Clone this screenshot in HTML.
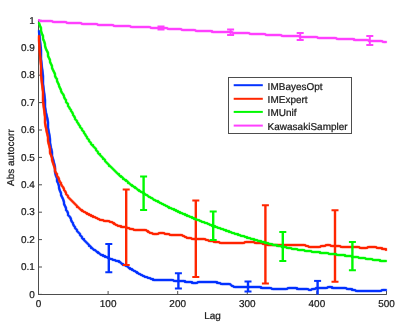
<!DOCTYPE html>
<html><head><meta charset="utf-8"><style>
html,body{margin:0;padding:0;background:#fff;}
svg{display:block;will-change:transform;}
text{font-family:"Liberation Sans",sans-serif;font-size:100px;fill:#1a1a1a;stroke:#1a1a1a;stroke-width:2.5px;text-rendering:geometricPrecision;}
</style></head><body>
<svg width="407" height="332" viewBox="0 0 407 332">
<rect width="407" height="332" fill="#fff"/>
<path d="M38.5,20.4 L38.5,294.5 M38,294.5 L386.5,294.5 L386.5,291" stroke="#4d4d4d" stroke-width="1" fill="none"/>
<path d="M38.5,294.40 L42,294.40 M38.5,267.00 L42,267.00 M38.5,239.60 L42,239.60 M38.5,212.20 L42,212.20 M38.5,184.80 L42,184.80 M38.5,157.40 L42,157.40 M38.5,130.00 L42,130.00 M38.5,102.60 L42,102.60 M38.5,75.20 L42,75.20 M38.5,47.80 L42,47.80 M38.5,20.40 L42,20.40 M38.50,294.5 L38.50,291 M108.10,294.5 L108.10,291 M177.70,294.5 L177.70,291 M247.30,294.5 L247.30,291 M316.90,294.5 L316.90,291 M386.50,294.5 L386.50,291 " stroke="#4d4d4d" stroke-width="1" fill="none"/>
<g fill="none" stroke-width="2.0" stroke-linejoin="round">
<defs><path id="cb" d="M39,31 L40,41 L41,50 L41,59 L42,68 L43,76 L43,84 L44,92 L45,100 L45,107 L46,113 L47,117 L48,122 L48,128 L49,133 L50,139 L50,143 L51,148 L52,152 L52,156 L53,159 L54,163 L55,167 L55,172 L56,176 L57,178 L57,181 L58,183 L59,186 L59,188 L60,191 L61,193 L61,195 L62,197 L63,199 L64,202 L64,204 L65,206 L66,208 L66,210 L67,211 L68,213 L68,215 L69,216 L70,217 L71,219 L71,220 L72,222 L73,223 L73,224 L74,226 L75,227 L75,228 L76,229 L77,230 L77,231 L78,232 L79,233 L80,234 L80,235 L81,236 L82,237 L82,238 L83,239 L84,239 L84,240 L85,241 L86,242 L87,243 L88,244 L89,245 L89,246 L90,246 L91,247 L91,248 L92,248 L93,249 L94,250 L95,250 L96,251 L97,252 L98,252 L98,253 L99,253 L100,254 L101,255 L102,255 L103,255 L103,256 L104,256 L105,256 L105,257 L106,257 L107,257 L108,258 L109,258 L110,259 L111,259 L112,259 L113,260 L114,260 L115,260 L116,261 L117,261 L118,261 L119,261 L119,262 L120,262 L121,263 L122,264 L123,264 L123,265 L124,265 L125,265 L126,266 L127,266 L128,267 L129,268 L130,268 L130,269 L131,269 L132,269 L132,270 L133,270 L134,271 L135,271 L136,272 L137,272 L137,273 L138,273 L139,274 L140,274 L141,275 L142,275 L143,276 L144,276 L145,277 L146,277 L147,277 L148,278 L149,278 L150,278 L151,279 L152,279 L153,279 L153,280 L154,280 L155,280 L156,280 L157,280 L158,280 L159,280 L160,280 L161,280 L162,280 L163,280 L164,280 L165,280 L166,280 L167,280 L168,280 L169,280 L170,280 L171,280 L172,280 L173,280 L174,281 L175,281 L176,281 L177,281 L178,281 L179,281 L180,281 L181,281 L182,281 L183,281 L184,281 L185,281 L185,282 L186,282 L187,282 L188,282 L189,282 L190,282 L191,282 L192,282 L192,283 L193,283 L194,283 L195,283 L196,283 L197,283 L198,282 L199,282 L200,282 L201,282 L202,282 L203,282 L204,282 L205,282 L206,282 L207,282 L208,282 L209,282 L210,282 L211,282 L212,282 L213,282 L214,282 L215,282 L216,282 L217,282 L217,283 L218,283 L219,283 L220,283 L221,284 L222,284 L223,284 L224,284 L225,284 L226,284 L227,284 L228,284 L229,284 L230,284 L231,285 L232,286 L233,286 L234,287 L235,287 L236,287 L237,287 L238,287 L239,287 L240,287 L241,287 L242,287 L243,287 L244,287 L245,287 L246,287 L247,287 L248,287 L249,287 L250,287 L251,287 L252,287 L253,287 L254,287 L255,287 L256,287 L257,287 L258,287 L259,287 L260,287 L261,287 L261,288 L262,288 L263,288 L264,288 L265,288 L266,288 L267,288 L268,288 L269,288 L270,288 L271,288 L272,289 L273,289 L274,289 L275,289 L276,289 L277,289 L278,289 L279,289 L280,289 L281,289 L282,289 L283,289 L284,289 L285,289 L286,289 L287,289 L288,288 L289,288 L290,288 L291,288 L292,288 L293,288 L294,288 L295,288 L296,288 L297,288 L297,289 L298,289 L299,289 L300,289 L301,289 L302,289 L303,289 L304,289 L305,289 L306,289 L307,289 L308,289 L309,290 L310,290 L311,290 L312,289 L313,289 L314,289 L315,289 L316,288 L317,288 L318,288 L319,288 L320,288 L321,288 L322,288 L323,288 L324,288 L325,288 L326,288 L327,288 L328,287 L329,287 L330,287 L331,287 L332,287 L332,288 L333,288 L334,288 L335,288 L336,288 L337,288 L338,288 L339,288 L340,288 L341,288 L342,288 L343,288 L344,288 L345,288 L346,288 L347,289 L348,289 L349,289 L350,289 L351,289 L352,289 L352,290 L353,290 L354,290 L355,290 L356,291 L357,291 L358,291 L359,291 L360,291 L361,291 L362,291 L363,291 L364,291 L365,291 L366,291 L367,291 L368,291 L369,291 L370,291 L371,291 L372,291 L373,291 L374,291 L375,291 L376,291 L377,291 L378,291 L379,291 L380,291 L381,291 L382,290 L383,290 L384,290 L385,290 L386,290"/></defs><g stroke="#0433ff" stroke-linecap="round" stroke-linejoin="round"><use href="#cb" stroke-width="2"/><use href="#cb" transform="translate(-0.75,-0.75)" stroke-width="0.5"/><use href="#cb" transform="translate(0.75,-0.75)" stroke-width="0.5"/><use href="#cb" transform="translate(-0.75,0.75)" stroke-width="0.5"/><use href="#cb" transform="translate(0.75,0.75)" stroke-width="0.5"/></g>
<path d="M108.80,244.10 L108.80,272.30" stroke="#0433ff" stroke-width="2.4" fill="none"/><path d="M105.30,244.10 L112.30,244.10 M105.30,272.30 L112.30,272.30" stroke="#0433ff" stroke-width="2" fill="none"/>
<path d="M178.40,273.30 L178.40,288.60" stroke="#0433ff" stroke-width="2.4" fill="none"/><path d="M174.90,273.30 L181.90,273.30 M174.90,288.60 L181.90,288.60" stroke="#0433ff" stroke-width="2" fill="none"/>
<path d="M248.00,281.50 L248.00,291.60" stroke="#0433ff" stroke-width="2.4" fill="none"/><path d="M244.50,281.50 L251.50,281.50 M244.50,291.60 L251.50,291.60" stroke="#0433ff" stroke-width="2" fill="none"/>
<path d="M317.60,280.90 L317.60,294.60" stroke="#0433ff" stroke-width="2.4" fill="none"/><path d="M314.10,280.90 L321.10,280.90" stroke="#0433ff" stroke-width="2" fill="none"/>
<defs><path id="cr" d="M39,36 L39,40 L40,55 L41,66 L41,75 L42,84 L43,92 L43,101 L44,109 L45,117 L45,123 L46,128 L47,133 L48,137 L48,141 L49,145 L50,149 L50,153 L51,155 L52,158 L52,160 L53,163 L54,166 L55,169 L55,171 L56,173 L57,174 L57,176 L58,177 L59,179 L59,180 L60,182 L61,183 L61,184 L62,186 L63,187 L64,189 L64,190 L65,191 L66,193 L66,194 L67,195 L68,196 L68,197 L69,198 L70,199 L71,200 L72,201 L73,202 L74,203 L75,204 L76,205 L77,206 L77,207 L78,207 L79,208 L80,209 L81,210 L82,210 L82,211 L83,211 L84,212 L85,212 L86,213 L87,213 L87,214 L88,214 L89,214 L89,215 L90,215 L91,215 L91,216 L92,216 L93,216 L93,217 L94,217 L95,217 L96,218 L97,218 L98,219 L99,219 L100,220 L101,220 L102,220 L103,220 L104,221 L105,221 L106,221 L107,221 L108,221 L109,221 L110,222 L111,222 L112,222 L113,223 L114,223 L114,224 L115,224 L116,225 L117,225 L118,226 L119,226 L120,226 L121,226 L121,227 L122,227 L123,227 L124,227 L125,227 L126,227 L127,228 L128,228 L129,228 L130,229 L131,229 L132,229 L133,229 L134,230 L135,230 L136,230 L137,230 L138,230 L139,230 L140,230 L141,230 L142,230 L143,230 L144,230 L145,230 L146,230 L147,231 L148,231 L148,232 L149,232 L150,233 L151,233 L152,233 L153,234 L154,234 L155,234 L156,234 L157,234 L158,234 L159,233 L160,233 L161,233 L162,233 L163,233 L164,233 L165,234 L166,234 L167,234 L168,234 L169,234 L170,235 L171,235 L172,235 L173,235 L174,235 L175,235 L176,235 L177,235 L178,235 L179,235 L180,235 L181,235 L182,235 L183,236 L184,236 L185,237 L186,237 L187,238 L188,238 L189,238 L190,238 L191,238 L192,239 L193,239 L194,239 L195,239 L196,239 L197,239 L198,239 L199,239 L200,239 L201,239 L202,239 L203,239 L204,239 L205,239 L206,240 L207,240 L208,240 L209,241 L210,241 L211,241 L212,241 L213,241 L214,242 L215,242 L216,242 L217,242 L218,242 L219,242 L220,243 L221,243 L222,243 L223,243 L224,243 L225,243 L226,243 L227,243 L228,243 L229,243 L230,243 L231,243 L232,243 L233,243 L234,243 L235,243 L236,243 L237,243 L238,243 L239,243 L240,243 L241,243 L242,243 L243,243 L244,243 L245,242 L246,242 L247,242 L248,242 L249,242 L250,242 L251,242 L252,242 L253,242 L254,242 L255,243 L256,243 L257,243 L258,243 L259,243 L260,243 L261,243 L262,243 L263,244 L264,244 L265,244 L266,244 L267,244 L267,245 L268,245 L269,245 L270,245 L271,245 L272,245 L273,245 L274,245 L275,245 L276,245 L277,245 L278,245 L279,245 L280,245 L281,245 L282,245 L283,245 L284,245 L285,245 L286,245 L287,245 L288,245 L289,245 L290,245 L291,245 L292,245 L293,245 L294,245 L295,245 L296,245 L297,245 L298,245 L299,245 L300,245 L301,245 L302,245 L303,245 L304,245 L305,245 L306,246 L307,246 L308,246 L309,247 L310,247 L311,247 L312,247 L313,247 L314,247 L315,247 L316,247 L317,247 L318,247 L319,247 L320,247 L321,246 L322,246 L323,246 L324,246 L325,246 L326,245 L327,245 L328,245 L329,245 L330,245 L331,246 L332,246 L333,246 L334,246 L335,246 L336,246 L337,246 L338,246 L339,246 L340,246 L341,247 L342,247 L343,247 L344,247 L345,247 L346,247 L347,247 L348,247 L349,247 L350,247 L351,247 L352,247 L353,247 L354,247 L355,247 L356,247 L357,247 L358,247 L359,247 L360,248 L361,248 L362,248 L363,248 L364,248 L365,248 L366,248 L367,248 L368,247 L369,247 L370,247 L371,247 L372,247 L373,247 L374,247 L375,247 L376,247 L377,248 L378,248 L379,248 L380,248 L381,248 L382,248 L382,249 L383,249 L384,249 L385,249 L386,249 L386,250"/></defs><g stroke="#ff2600" stroke-linecap="round" stroke-linejoin="round"><use href="#cr" stroke-width="2"/><use href="#cr" transform="translate(-0.75,-0.75)" stroke-width="0.5"/><use href="#cr" transform="translate(0.75,-0.75)" stroke-width="0.5"/><use href="#cr" transform="translate(-0.75,0.75)" stroke-width="0.5"/><use href="#cr" transform="translate(0.75,0.75)" stroke-width="0.5"/></g>
<path d="M126.20,189.50 L126.20,264.90" stroke="#ff2600" stroke-width="2.4" fill="none"/><path d="M122.70,189.50 L129.70,189.50 M122.70,264.90 L129.70,264.90" stroke="#ff2600" stroke-width="2" fill="none"/>
<path d="M195.80,200.60 L195.80,277.00" stroke="#ff2600" stroke-width="2.4" fill="none"/><path d="M192.30,200.60 L199.30,200.60 M192.30,277.00 L199.30,277.00" stroke="#ff2600" stroke-width="2" fill="none"/>
<path d="M265.40,205.30 L265.40,283.40" stroke="#ff2600" stroke-width="2.4" fill="none"/><path d="M261.90,205.30 L268.90,205.30 M261.90,283.40 L268.90,283.40" stroke="#ff2600" stroke-width="2" fill="none"/>
<path d="M335.00,210.20 L335.00,281.80" stroke="#ff2600" stroke-width="2.4" fill="none"/><path d="M331.50,210.20 L338.50,210.20 M331.50,281.80 L338.50,281.80" stroke="#ff2600" stroke-width="2" fill="none"/>
<defs><path id="cg" d="M39,23 L40,26 L41,28 L41,31 L42,34 L43,36 L43,39 L44,41 L45,44 L45,46 L46,49 L47,51 L48,53 L48,56 L49,58 L50,60 L50,62 L51,64 L52,66 L52,68 L53,70 L54,72 L55,74 L55,76 L56,78 L57,79 L57,81 L58,83 L59,85 L59,86 L60,88 L61,90 L61,91 L62,93 L63,94 L64,96 L64,97 L65,99 L66,100 L66,102 L67,103 L68,104 L68,106 L69,107 L70,109 L71,110 L71,111 L72,112 L73,114 L73,115 L74,116 L75,118 L75,119 L76,120 L77,121 L77,122 L78,123 L79,125 L80,126 L80,127 L81,128 L82,129 L82,130 L83,131 L84,132 L84,133 L85,134 L86,136 L87,137 L87,138 L88,139 L89,140 L89,141 L90,142 L91,143 L91,144 L92,145 L93,145 L93,146 L94,147 L95,148 L96,149 L96,150 L97,151 L98,152 L98,153 L99,154 L100,154 L100,155 L101,156 L102,157 L103,158 L103,159 L104,159 L105,160 L105,161 L106,162 L107,163 L108,164 L109,165 L109,166 L110,166 L111,167 L112,168 L113,169 L114,170 L115,171 L116,172 L117,173 L118,174 L119,174 L119,175 L120,176 L121,176 L121,177 L122,177 L123,178 L123,179 L124,179 L125,180 L126,180 L126,181 L127,181 L128,182 L128,183 L129,183 L130,184 L131,185 L132,185 L132,186 L133,186 L134,187 L135,187 L135,188 L136,188 L137,189 L138,190 L139,190 L139,191 L140,191 L141,192 L142,192 L143,193 L144,193 L144,194 L145,194 L146,195 L147,195 L148,196 L149,197 L150,197 L151,198 L152,198 L153,199 L154,200 L155,200 L156,201 L157,201 L158,201 L158,202 L159,202 L160,203 L161,203 L162,204 L163,204 L164,205 L165,205 L166,206 L167,206 L168,207 L169,207 L169,208 L170,208 L171,208 L172,209 L173,209 L174,209 L174,210 L175,210 L176,210 L176,211 L177,211 L178,211 L178,212 L179,212 L180,212 L180,213 L181,213 L182,213 L183,214 L184,214 L185,214 L185,215 L186,215 L187,215 L187,216 L188,216 L189,216 L190,217 L191,217 L192,217 L192,218 L193,218 L194,218 L194,219 L195,219 L196,219 L197,220 L198,220 L199,220 L200,221 L201,221 L202,222 L203,222 L204,222 L205,223 L206,223 L207,223 L208,224 L209,224 L210,225 L211,225 L212,225 L212,226 L213,226 L214,226 L215,226 L215,227 L216,227 L217,227 L218,228 L219,228 L220,228 L221,229 L222,229 L223,229 L224,230 L225,230 L226,230 L226,231 L227,231 L228,231 L229,231 L229,232 L230,232 L231,232 L232,233 L233,233 L234,233 L235,234 L236,234 L237,234 L238,234 L238,235 L239,235 L240,235 L241,236 L242,236 L243,236 L244,236 L245,237 L246,237 L247,237 L247,238 L248,238 L249,238 L250,238 L251,239 L252,239 L253,239 L254,239 L254,240 L255,240 L256,240 L257,240 L258,241 L259,241 L260,241 L261,241 L261,242 L262,242 L263,242 L264,242 L265,242 L265,243 L266,243 L267,243 L268,243 L269,244 L270,244 L271,244 L272,244 L273,245 L274,245 L275,245 L276,245 L277,245 L277,246 L278,246 L279,246 L280,246 L281,246 L282,247 L283,247 L284,247 L285,247 L286,247 L287,248 L288,248 L289,248 L290,248 L291,248 L292,249 L293,249 L294,249 L295,249 L296,249 L297,249 L298,250 L299,250 L300,250 L301,250 L302,250 L303,250 L304,250 L305,251 L306,251 L307,251 L308,251 L309,251 L310,251 L311,251 L312,252 L313,252 L314,252 L315,252 L316,252 L317,252 L318,252 L319,252 L320,252 L320,253 L321,253 L322,253 L323,253 L324,253 L325,253 L326,253 L327,253 L328,253 L329,254 L330,254 L331,254 L332,254 L333,254 L334,254 L335,254 L336,254 L337,255 L338,255 L339,255 L340,255 L341,255 L342,255 L343,255 L344,255 L345,255 L345,256 L346,256 L347,256 L348,256 L349,256 L350,256 L351,256 L352,256 L352,257 L353,257 L354,257 L355,257 L356,257 L357,257 L358,257 L359,258 L360,258 L361,258 L362,258 L363,258 L364,258 L365,258 L366,259 L367,259 L368,259 L369,259 L370,259 L371,259 L372,259 L373,260 L374,260 L375,260 L376,260 L377,260 L378,260 L379,260 L380,260 L380,261 L381,261 L382,261 L383,261 L384,261 L385,261 L386,261"/></defs><g stroke="#00f900" stroke-linecap="round" stroke-linejoin="round"><use href="#cg" stroke-width="2"/><use href="#cg" transform="translate(-0.75,-0.75)" stroke-width="0.5"/><use href="#cg" transform="translate(0.75,-0.75)" stroke-width="0.5"/><use href="#cg" transform="translate(-0.75,0.75)" stroke-width="0.5"/><use href="#cg" transform="translate(0.75,0.75)" stroke-width="0.5"/></g>
<path d="M143.60,176.40 L143.60,210.00" stroke="#00f900" stroke-width="2.4" fill="none"/><path d="M140.10,176.40 L147.10,176.40 M140.10,210.00 L147.10,210.00" stroke="#00f900" stroke-width="2" fill="none"/>
<path d="M213.20,211.40 L213.20,239.90" stroke="#00f900" stroke-width="2.4" fill="none"/><path d="M209.70,211.40 L216.70,211.40 M209.70,239.90 L216.70,239.90" stroke="#00f900" stroke-width="2" fill="none"/>
<path d="M282.80,231.90 L282.80,261.00" stroke="#00f900" stroke-width="2.4" fill="none"/><path d="M279.30,231.90 L286.30,231.90 M279.30,261.00 L286.30,261.00" stroke="#00f900" stroke-width="2" fill="none"/>
<path d="M352.40,242.00 L352.40,270.20" stroke="#00f900" stroke-width="2.4" fill="none"/><path d="M348.90,242.00 L355.90,242.00 M348.90,270.20 L355.90,270.20" stroke="#00f900" stroke-width="2" fill="none"/>
<defs><path id="cm" d="M39,20 L40,21 L41,21 L42,21 L43,21 L44,21 L45,21 L46,21 L47,21 L48,21 L49,21 L50,21 L51,21 L52,21 L53,22 L54,22 L55,22 L56,22 L57,22 L58,22 L59,22 L60,22 L61,22 L62,22 L63,22 L64,22 L65,22 L66,22 L67,23 L68,23 L69,23 L70,23 L71,23 L72,23 L73,23 L74,23 L75,23 L76,23 L77,23 L78,23 L79,23 L80,23 L81,23 L82,24 L83,24 L84,24 L85,24 L86,24 L87,24 L88,24 L89,24 L90,24 L91,24 L92,24 L93,24 L94,24 L95,24 L96,24 L97,24 L98,25 L99,25 L100,25 L101,25 L102,25 L103,25 L104,25 L105,25 L106,25 L107,25 L108,25 L109,25 L110,25 L111,25 L112,25 L113,25 L114,26 L115,26 L116,26 L117,26 L118,26 L119,26 L120,26 L121,26 L122,26 L123,26 L124,26 L125,26 L126,26 L127,26 L128,26 L129,26 L130,26 L131,27 L132,27 L133,27 L134,27 L135,27 L136,27 L137,27 L138,27 L139,27 L140,27 L141,27 L142,27 L143,27 L144,27 L145,27 L146,27 L147,27 L148,27 L149,27 L150,27 L151,28 L152,28 L153,28 L154,28 L155,28 L156,28 L157,28 L158,28 L159,28 L160,28 L161,28 L162,28 L163,28 L164,28 L165,28 L166,28 L167,28 L168,29 L169,29 L170,29 L171,29 L172,29 L173,29 L174,29 L175,29 L176,29 L177,29 L178,29 L179,29 L180,29 L181,29 L182,30 L183,30 L184,30 L185,30 L186,30 L187,30 L188,30 L189,30 L190,30 L191,30 L192,30 L193,30 L194,30 L195,30 L196,31 L197,31 L198,31 L199,31 L200,31 L201,31 L202,31 L203,31 L204,31 L205,31 L206,31 L207,31 L208,31 L209,31 L210,31 L211,31 L212,31 L212,32 L213,32 L214,32 L215,32 L216,32 L217,32 L218,32 L219,32 L220,32 L221,32 L222,32 L223,32 L224,32 L225,32 L226,32 L227,32 L228,32 L229,32 L230,32 L231,32 L232,32 L233,33 L234,33 L235,33 L236,33 L237,33 L238,33 L239,33 L240,33 L241,33 L242,33 L243,33 L244,33 L245,33 L246,33 L247,33 L248,33 L249,33 L250,34 L251,34 L252,34 L253,34 L254,34 L255,34 L256,34 L257,34 L258,34 L259,34 L260,34 L261,34 L262,34 L263,34 L264,34 L265,34 L266,35 L267,35 L268,35 L269,35 L270,35 L271,35 L272,35 L273,35 L274,35 L275,35 L276,35 L277,35 L278,35 L279,35 L280,35 L281,35 L282,36 L283,36 L284,36 L285,36 L286,36 L287,36 L288,36 L289,36 L290,36 L291,36 L292,36 L293,36 L294,36 L295,36 L296,36 L297,36 L298,36 L299,36 L300,37 L301,37 L302,37 L303,37 L304,37 L305,37 L306,37 L307,37 L308,37 L309,37 L310,37 L311,37 L312,37 L313,37 L314,37 L315,37 L316,37 L317,37 L318,38 L319,38 L320,38 L321,38 L322,38 L323,38 L324,38 L325,38 L326,38 L327,38 L328,38 L329,38 L330,38 L331,38 L332,38 L333,38 L334,38 L335,38 L336,38 L337,39 L338,39 L339,39 L340,39 L341,39 L342,39 L343,39 L344,39 L345,39 L346,39 L347,39 L348,39 L349,39 L350,39 L351,39 L352,39 L353,39 L354,39 L354,40 L355,40 L356,40 L357,40 L358,40 L359,40 L360,40 L361,40 L362,40 L363,40 L364,40 L365,40 L366,40 L367,40 L368,40 L369,41 L370,41 L371,41 L372,41 L373,41 L374,41 L375,41 L376,41 L377,41 L378,41 L379,41 L380,41 L381,41 L382,41 L383,42 L384,42 L385,42 L386,42"/></defs><g stroke="#ff40ff" stroke-linecap="round" stroke-linejoin="round"><use href="#cm" stroke-width="2"/><use href="#cm" transform="translate(-0.75,-0.75)" stroke-width="0.5"/><use href="#cm" transform="translate(0.75,-0.75)" stroke-width="0.5"/><use href="#cm" transform="translate(-0.75,0.75)" stroke-width="0.5"/><use href="#cm" transform="translate(0.75,0.75)" stroke-width="0.5"/></g>
<path d="M161.00,26.60 L161.00,29.60" stroke="#ff40ff" stroke-width="2.0" fill="none"/><path d="M157.50,26.60 L164.50,26.60 M157.50,29.60 L164.50,29.60" stroke="#ff40ff" stroke-width="2" fill="none"/>
<path d="M230.60,29.50 L230.60,35.10" stroke="#ff40ff" stroke-width="2.0" fill="none"/><path d="M227.10,29.50 L234.10,29.50 M227.10,35.10 L234.10,35.10" stroke="#ff40ff" stroke-width="2" fill="none"/>
<path d="M300.20,32.90 L300.20,40.00" stroke="#ff40ff" stroke-width="2.0" fill="none"/><path d="M296.70,32.90 L303.70,32.90 M296.70,40.00 L303.70,40.00" stroke="#ff40ff" stroke-width="2" fill="none"/>
<path d="M369.80,36.00 L369.80,45.00" stroke="#ff40ff" stroke-width="2.0" fill="none"/><path d="M366.30,36.00 L373.30,36.00 M366.30,45.00 L373.30,45.00" stroke="#ff40ff" stroke-width="2" fill="none"/>
</g>
<rect x="228.5" y="77.5" width="123" height="56" fill="#fff" stroke="#4d4d4d" stroke-width="1"/>
<path d="M233.7,85.2 L262.8,85.2" stroke="#0433ff" stroke-width="2"/>
<text transform="translate(267.6,89.70) scale(0.1)">IMBayesOpt</text>
<path d="M233.7,98.8 L262.8,98.8" stroke="#ff2600" stroke-width="2"/>
<text transform="translate(267.6,103.30) scale(0.1)">IMExpert</text>
<path d="M233.7,111.9 L262.8,111.9" stroke="#00f900" stroke-width="2"/>
<text transform="translate(267.6,116.40) scale(0.1)">IMUnif</text>
<path d="M233.7,125.6 L262.8,125.6" stroke="#ff40ff" stroke-width="2"/>
<text transform="translate(267.6,130.10) scale(0.1)">KawasakiSampler</text>
<text transform="translate(34.8,297.60) scale(0.1)" text-anchor="end">0</text>
<text transform="translate(34.8,270.20) scale(0.1)" text-anchor="end">0.1</text>
<text transform="translate(34.8,242.80) scale(0.1)" text-anchor="end">0.2</text>
<text transform="translate(34.8,215.40) scale(0.1)" text-anchor="end">0.3</text>
<text transform="translate(34.8,188.00) scale(0.1)" text-anchor="end">0.4</text>
<text transform="translate(34.8,160.60) scale(0.1)" text-anchor="end">0.5</text>
<text transform="translate(34.8,133.20) scale(0.1)" text-anchor="end">0.6</text>
<text transform="translate(34.8,105.80) scale(0.1)" text-anchor="end">0.7</text>
<text transform="translate(34.8,78.40) scale(0.1)" text-anchor="end">0.8</text>
<text transform="translate(34.8,51.00) scale(0.1)" text-anchor="end">0.9</text>
<text transform="translate(34.8,23.60) scale(0.1)" text-anchor="end">1</text>
<text transform="translate(38.50,307) scale(0.1)" text-anchor="middle">0</text>
<text transform="translate(108.10,307) scale(0.1)" text-anchor="middle">100</text>
<text transform="translate(177.70,307) scale(0.1)" text-anchor="middle">200</text>
<text transform="translate(247.30,307) scale(0.1)" text-anchor="middle">300</text>
<text transform="translate(316.90,307) scale(0.1)" text-anchor="middle">400</text>
<text transform="translate(386.50,307) scale(0.1)" text-anchor="middle">500</text>
<text transform="translate(212.5,319.3) scale(0.1)" text-anchor="middle">Lag</text>
<text transform="translate(13.5,157.6) rotate(-90) scale(0.1)" text-anchor="middle">Abs autocorr</text>
</svg>
</body></html>
